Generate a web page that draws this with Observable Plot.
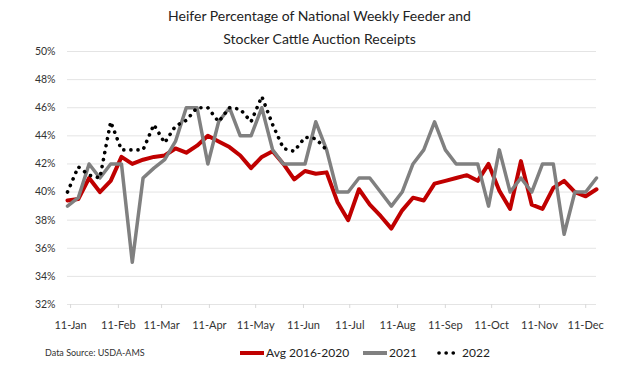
<!DOCTYPE html>
<html><head><meta charset="utf-8">
<script src="https://cdn.jsdelivr.net/npm/d3@7"></script>
<script src="https://cdn.jsdelivr.net/npm/@observablehq/plot@0.6"></script>
<style>
body{margin:0;background:#fff;font-family:Lato,"Open Sans",sans-serif;color:#333;}
#wrap{position:relative;width:639px;height:375px;overflow:hidden;}
#title{position:absolute;top:4px;left:0;width:639px;text-align:center;font-size:14px;line-height:23px;color:#222;}
#chart{position:absolute;top:44px;left:0;}
#source{position:absolute;left:45px;top:347px;font-size:9px;line-height:12px;color:#333;}
.leg{position:absolute;top:345px;font-size:12px;line-height:16px;display:flex;align-items:center;color:#222;}
.leg svg{display:block;margin-right:2px;}
</style>
</head><body>
<div id="wrap">
  <div id="title">Heifer Percentage of National Weekly Feeder and<br>Stocker Cattle Auction Receipts</div>
  <div id="chart"></div>
  <div id="source">Data Source: USDA-AMS</div>
  <div id="legend"></div>
</div>
<script>
// ---- data ----
const firstWeek = "2021-01-09";
const seriesNames = ["Avg 2016-2020", "2021", "2022"];
const avg2016_2020 = [39.4, 39.5, 41.0, 40.0, 40.8, 42.5, 42.0, 42.3, 42.5, 42.6,
  43.1, 42.8, 43.3, 44.0, 43.6, 43.2, 42.6, 41.7, 42.5, 42.9,
  42.0, 40.9, 41.5, 41.3, 41.4, 39.3, 38.0, 40.2, 39.1, 38.3,
  37.4, 38.7, 39.6, 39.4, 40.6, 40.8, 41.0, 41.2, 40.8, 42.0,
  40.1, 38.8, 42.2, 39.1, 38.8, 40.3, 40.8, 40.0, 39.7, 40.2];
const y2021 = [39, 39.6, 42, 41, 42, 42, 35, 41, 41.7, 42.3,
  43.6, 46, 46, 42, 45, 46, 44, 44, 46, 43,
  42, 42, 42, 45, 43, 40, 40, 41, 41, 40,
  39, 40, 42, 43, 45, 43, 42, 42, 42, 39,
  43, 40, 41, 40, 42, 42, 37, 40, 40, 41];
const y2022 = [40.0, 41.8, 41.2, 41.0, 45.0, 43.0, 43.0, 43.0, 44.8, 43.5,
  44.7, 45.1, 46.0, 46.0, 45.0, 46.0, 45.9, 45.0, 46.8, 44.8,
  43.1, 42.9, 43.9, 43.8, 43.0];
const xTickLabels = ["11-Jan","11-Feb","11-Mar","11-Apr","11-May","11-Jun","11-Jul","11-Aug","11-Sep","11-Oct","11-Nov","11-Dec"];
const yTicks = [32, 34, 36, 38, 40, 42, 44, 46, 48, 50];

// ---- build ----
const start = d3.utcParse("%Y-%m-%d")(firstWeek);
const weekDate = i => d3.utcDay.offset(start, 7 * i);
const toRows = arr => arr.map((v, i) => ({date: weekDate(i), v}));
const rowsAvg = toRows(avg2016_2020), rows21 = toRows(y2021), rows22 = toRows(y2022);
const parseTick = d3.utcParse("%d-%b-%Y");
const tickDates = xTickLabels.map(s => parseTick(s + "-2021"));
const fmt = d3.utcFormat("%-d-%b");

const chart = Plot.plot({
  width: 639, height: 290,
  marginTop: 7, marginBottom: 30, marginLeft: 67, marginRight: 43,
  style: {fontFamily: "Lato, 'Open Sans', sans-serif", color: "#333", background: "transparent"},
  x: {type: "utc", domain: [rowsAvg[0].date, rowsAvg[rowsAvg.length - 1].date]},
  y: {domain: [32, 50]},
  marks: [
    Plot.gridY(yTicks, {stroke: "#e4e4e4", strokeOpacity: 1, strokeWidth: 1}),
    Plot.axisY(yTicks, {tickSize: 0, tickPadding: 12, tickFormat: d => d + "%", fontSize: 10.5, label: null}),
    Plot.axisX(tickDates, {tickSize: 4, tickPadding: 13, tickFormat: fmt, fontSize: 11, label: null, stroke: "#d8d8d8"}),
    Plot.line(rowsAvg, {x: "date", y: "v", stroke: "#c00000", strokeWidth: 4, strokeLinejoin: "round"}),
    Plot.line(rows21, {x: "date", y: "v", stroke: "#808080", strokeWidth: 3.5, strokeLinejoin: "round"}),
    Plot.line(rows22, {x: "date", y: "v", stroke: "#000", strokeWidth: 3.6, strokeDasharray: "0.1 7", strokeLinecap: "round"})
  ]
});
document.getElementById("chart").appendChild(chart);

// ---- legend ----
const legendItems = [
  {name: seriesNames[0], left: 240, color: "#c00000", w: 4, dash: null},
  {name: seriesNames[1], left: 363, color: "#808080", w: 4, dash: null},
  {name: seriesNames[2], left: 436, color: "#000", w: 3.6, dash: "0.1 7"}
];
const wrap = document.getElementById("wrap");
for (const it of legendItems) {
  const d = document.createElement("div");
  d.className = "leg";
  d.style.left = it.left + "px";
  const sw = it.dash
    ? `<svg width="24" height="10"><line x1="3" x2="21" y1="5" y2="5" stroke="${it.color}" stroke-width="${it.w}" stroke-linecap="round" stroke-dasharray="${it.dash}"/></svg>`
    : `<svg width="24" height="10"><line x1="0" x2="24" y1="5" y2="5" stroke="${it.color}" stroke-width="${it.w}"/></svg>`;
  d.innerHTML = sw + `<span>${it.name}</span>`;
  wrap.appendChild(d);
}
</script>
</body></html>
